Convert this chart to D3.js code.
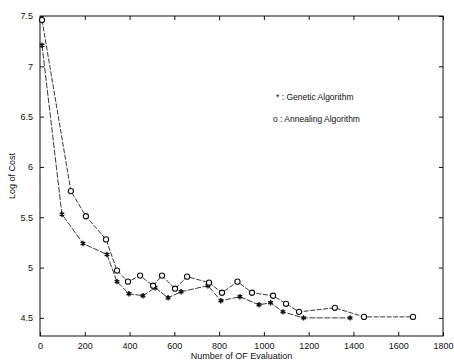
<!DOCTYPE html>
<html>
<head>
<meta charset="utf-8">
<script src="https://cdn.jsdelivr.net/npm/d3@7"></script>
<style>
  body { margin: 0; background: #fff; }
  text { font-family: "Liberation Sans", Arial, sans-serif; fill: #111; }
</style>
</head>
<body>
<div id="chart"></div>
<script>
// genetic algorithm run (*)
const gaEvals = [9, 98, 192, 299, 344, 397, 460, 514, 572, 630, 750, 808, 893, 978, 1030, 1085, 1177, 1385];
const gaCost  = [7.21, 5.53, 5.24, 5.13, 4.86, 4.74, 4.72, 4.80, 4.70, 4.76, 4.82, 4.67, 4.71, 4.63, 4.65, 4.56, 4.50, 4.50];

// annealing algorithm run (o)
const saEvals = [9, 138, 205, 295, 344, 393, 447, 505, 545, 603, 657, 755, 813, 882, 947, 1041, 1099, 1157, 1317, 1447, 1666];
const saCost  = [7.46, 5.76, 5.51, 5.28, 4.97, 4.86, 4.92, 4.82, 4.92, 4.79, 4.91, 4.85, 4.75, 4.86, 4.75, 4.72, 4.64, 4.56, 4.60, 4.51, 4.51];

const xTicks = [0, 200, 400, 600, 800, 1000, 1200, 1400, 1600, 1800];
const yTicks = [4.5, 5, 5.5, 6, 6.5, 7, 7.5];
const legendLabels = ['* : Genetic Algorithm', 'o : Annealing Algorithm'];

const width = 454, height = 363;
const mLeft = 40, mRight = 443, mTop = 16, mBottom = 336;

const svg = d3.select('#chart')
    .append('svg')
    .attr('width', width)
    .attr('height', height);

const xScale = d3.scaleLinear().domain([0, 1800]).range([mLeft, mRight]);
const yScale = d3.scaleLinear().domain([4.32, 7.5]).range([mBottom, mTop]);

// frame box
svg.append('rect')
    .attr('x', mLeft).attr('y', mTop)
    .attr('width', mRight - mLeft).attr('height', mBottom - mTop)
    .attr('fill', 'none').attr('stroke', '#111').attr('stroke-width', 1);

// axes, ticks pointing inward
const fmtY = d => d3.format('')(d);
svg.append('g')
    .attr('transform', `translate(0,${mBottom})`)
    .call(d3.axisBottom(xScale).tickValues(xTicks).tickSizeInner(-4).tickSizeOuter(0).tickPadding(7).tickFormat(d3.format('d')))
    .call(g => g.select('.domain').remove())
    .selectAll('text').attr('font-size', 9);
svg.append('g')
    .attr('transform', `translate(0,${mTop})`)
    .call(d3.axisTop(xScale).tickValues(xTicks).tickSizeInner(-4).tickSizeOuter(0).tickFormat(''))
    .call(g => g.select('.domain').remove());
svg.append('g')
    .attr('transform', `translate(${mLeft},0)`)
    .call(d3.axisLeft(yScale).tickValues(yTicks).tickSizeInner(-4).tickSizeOuter(0).tickPadding(7).tickFormat(fmtY))
    .call(g => g.select('.domain').remove())
    .selectAll('text').attr('font-size', 9);
svg.append('g')
    .attr('transform', `translate(${mRight},0)`)
    .call(d3.axisRight(yScale).tickValues(yTicks).tickSizeInner(-4).tickSizeOuter(0).tickFormat(''))
    .call(g => g.select('.domain').remove());
svg.selectAll('.tick line').attr('stroke', '#111');

// lines
const line = (xs, ys) => d3.line()
    .x((d, i) => xScale(xs[i]))
    .y((d, i) => yScale(ys[i]))(xs);

svg.append('path')
    .attr('d', line(gaEvals, gaCost))
    .attr('fill', 'none').attr('stroke', '#222').attr('stroke-width', 0.9)
    .attr('stroke-dasharray', '6,1.5');
svg.append('path')
    .attr('d', line(saEvals, saCost))
    .attr('fill', 'none').attr('stroke', '#222').attr('stroke-width', 0.9)
    .attr('stroke-dasharray', '5,1.5');

// markers
svg.selectAll('.ga')
    .data(gaEvals)
    .enter()
    .append('path')
    .attr('class', 'ga')
    .attr('d', d3.symbol(d3.symbolAsterisk, 20))
    .attr('transform', (d, i) => `translate(${xScale(d)},${yScale(gaCost[i])})`)
    .attr('fill', 'none').attr('stroke', '#111').attr('stroke-width', 1.4);

svg.selectAll('.sa')
    .data(saEvals)
    .enter()
    .append('circle')
    .attr('class', 'sa')
    .attr('cx', d => xScale(d))
    .attr('cy', (d, i) => yScale(saCost[i]))
    .attr('r', 2.6)
    .attr('fill', '#fff').attr('stroke', '#111').attr('stroke-width', 1.1);

// legend text
svg.selectAll('.legend')
    .data(legendLabels)
    .enter()
    .append('text')
    .attr('class', 'legend')
    .attr('x', (d, i) => i === 0 ? 276 : 273)
    .attr('y', (d, i) => 100 + i * 22)
    .attr('font-size', 8.5)
    .text(d => d);

// axis titles
svg.append('text')
    .attr('x', (mLeft + mRight) / 2)
    .attr('y', 359)
    .attr('text-anchor', 'middle')
    .attr('font-size', 9)
    .text('Number of OF Evaluation');

svg.append('text')
    .attr('transform', `translate(15,${(mTop + mBottom) / 2}) rotate(-90)`)
    .attr('text-anchor', 'middle')
    .attr('font-size', 9)
    .text('Log of Cost');
</script>
</body>
</html>
